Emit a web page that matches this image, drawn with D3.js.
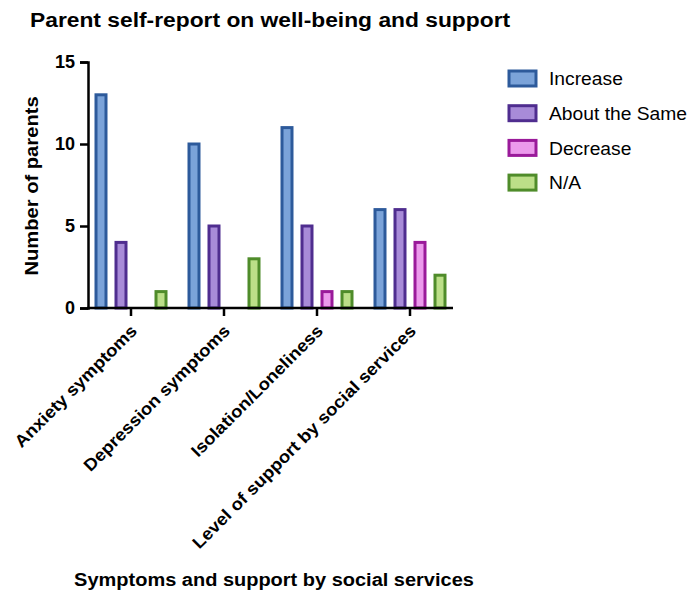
<!DOCTYPE html>
<html>
<head>
<meta charset="utf-8">
<script src="https://cdn.jsdelivr.net/npm/d3@7"></script>
<style>
  body { margin: 0; background: #fff; }
  text { font-family: "Liberation Sans", Arial, sans-serif; fill: #000; }
</style>
</head>
<body>
<script>
var width = 690, height = 593;

// data
var categories = ["Anxiety symptoms", "Depression symptoms", "Isolation/Loneliness", "Level of support by social services"];
var series = ["Increase", "About the Same", "Decrease", "N/A"];
var increase = [13, 10, 11, 6];
var aboutSame = [4, 5, 5, 6];
var decrease = [0, 0, 1, 4];
var notApplicable = [1, 3, 1, 2];
var yTicks = [0, 5, 10, 15];

var strokes = ["#2d5a9b", "#4f2d8f", "#9a1a9a", "#4f8c2a"];
var fills = ["#7ba3d9", "#a88bd8", "#ec9aec", "#bcdf88"];

var values = [increase, aboutSame, decrease, notApplicable];
var rows = [];
categories.forEach((c, i) => {
    series.forEach((s, j) => {
        rows.push({cat: c, series: s, idx: j, value: values[j][i]});
    })
})

// the original font is a bit wider than Liberation Sans, so stretch text a little
function stretch(sel, k) {
    sel.each(function() {
        var l = this.getComputedTextLength();
        d3.select(this).attr("textLength", l * k).attr("lengthAdjust", "spacingAndGlyphs");
    })
}

var svg = d3.select("body").append("svg")
    .attr("width", width)
    .attr("height", height);

var axisLeft = 88, axisRight = 453, axisBottom = 308, axisTop = 62;

var y = d3.scaleLinear().domain([0, 15]).range([axisBottom, axisTop]);
var x0 = d3.scaleBand().domain(categories).range([84.5, 456.5]);
var x1 = d3.scaleBand().domain(series).range([-40, 40]);

// title
svg.append("text")
    .attr("x", 30)
    .attr("y", 27)
    .style("font-size", "20px")
    .style("font-weight", "bold")
    .text("Parent self-report on well-being and support")
    .call(stretch, 1.14);

// bars
svg.append("g")
  .selectAll("rect")
  .data(rows.filter(d => d.value > 0))
  .join("rect")
    .attr("x", d => x0(d.cat) + x0.bandwidth() / 2 + x1(d.series) + x1.bandwidth() / 2 - 5)
    .attr("y", d => y(d.value))
    .attr("width", 10)
    .attr("height", d => y(0) - y(d.value))
    .attr("fill", d => fills[d.idx])
    .attr("stroke", d => strokes[d.idx])
    .attr("stroke-width", 3);

// y axis
var gy = svg.append("g")
    .attr("transform", `translate(${axisLeft},0)`)
    .call(d3.axisLeft(y).tickValues(yTicks).tickSize(8).tickPadding(5));
gy.select(".domain").attr("stroke", "#000").attr("stroke-width", 2.5);
gy.selectAll(".tick line").attr("stroke", "#000").attr("stroke-width", 2.5);
gy.selectAll(".tick text")
    .style("font-size", "18px")
    .style("font-weight", "bold")
    .style("font-family", "Liberation Sans, Arial, sans-serif");

// x axis
var gx = svg.append("g")
    .attr("transform", `translate(0,${axisBottom})`)
    .call(d3.axisBottom(x0).tickSize(8).tickSizeOuter(0));
gx.select(".domain").attr("d", `M${axisLeft - 1},0H${axisRight}`)
    .attr("stroke", "#000").attr("stroke-width", 2.5);
gx.selectAll(".tick line").attr("stroke", "#000").attr("stroke-width", 2.5);
gx.selectAll(".tick text")
    .style("font-size", "17px")
    .style("font-weight", "bold")
    .style("font-family", "Liberation Sans, Arial, sans-serif")
    .attr("text-anchor", "end")
    .attr("x", 0).attr("y", 0).attr("dy", 0)
    .attr("transform", "translate(7,24) rotate(-45)")
    .call(stretch, 1.09);

// axis titles
svg.append("text")
    .attr("transform", "translate(38,186) rotate(-90)")
    .attr("text-anchor", "middle")
    .style("font-size", "18px")
    .style("font-weight", "bold")
    .text("Number of parents")
    .call(stretch, 1.12);

svg.append("text")
    .attr("x", 274)
    .attr("y", 586)
    .attr("text-anchor", "middle")
    .style("font-size", "18px")
    .style("font-weight", "bold")
    .text("Symptoms and support by social services")
    .call(stretch, 1.11);

// legend
var legend = svg.append("g")
  .selectAll("g")
  .data(series)
  .join("g")
    .attr("transform", (d, i) => `translate(509,${71 + i * 34.7})`);
legend.append("rect")
    .attr("width", 27)
    .attr("height", 15)
    .attr("fill", (d, i) => fills[i])
    .attr("stroke", (d, i) => strokes[i])
    .attr("stroke-width", 3);
legend.append("text")
    .attr("x", 40)
    .attr("y", 8)
    .attr("dy", "0.35em")
    .style("font-size", "17.5px")
    .text(d => d)
    .call(stretch, 1.1);
</script>
</body>
</html>
